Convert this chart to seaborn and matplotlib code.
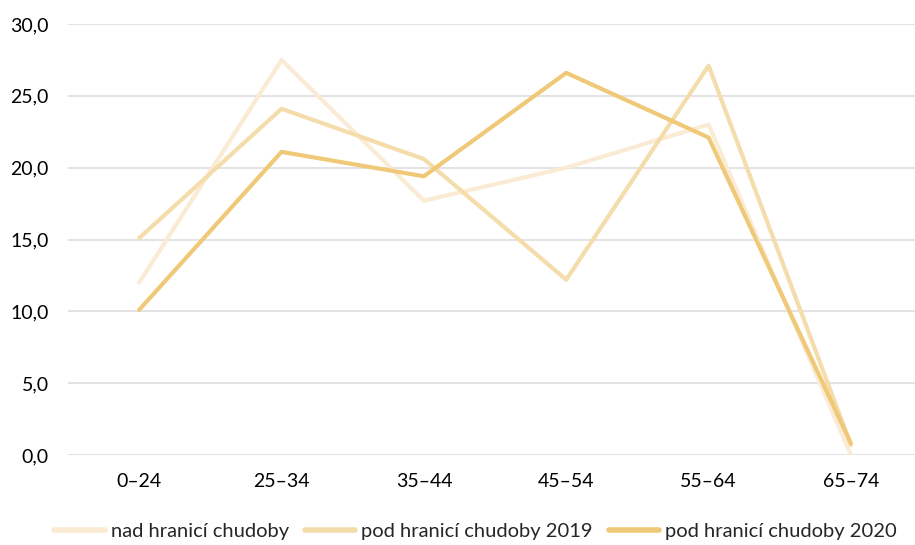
import pandas as pd
import seaborn as sns
import matplotlib.pyplot as plt

# Data
categories = ['0–24', '25–34', '35–44', '45–54', '55–64', '65–74']
nad_hranici = [12.0, 27.5, 17.7, 20.0, 23.0, 0.0]
pod_hranici_2019 = [15.1, 24.1, 20.6, 12.2, 27.1, 0.7]
pod_hranici_2020 = [10.1, 21.1, 19.4, 26.6, 22.1, 0.8]
series_names = ['nad hranicí chudoby', 'pod hranicí chudoby 2019', 'pod hranicí chudoby 2020']
y_ticks = [0, 5, 10, 15, 20, 25, 30]
y_tick_labels = ['0,0', '5,0', '10,0', '15,0', '20,0', '25,0', '30,0']

colors = ['#FAEBD5', '#F5DCAB', '#F0C978']

# Build long table for seaborn
rows = []
for name, vals in zip(series_names, [nad_hranici, pod_hranici_2019, pod_hranici_2020]):
    for i, (cat, v) in enumerate(zip(categories, vals)):
        rows.append({'pos': i, 'kategorie': cat, 'hodnota': v, 'serie': name})
df = pd.DataFrame(rows)

sns.set_style('white')
plt.rcParams['font.family'] = ['Lato', 'DejaVu Sans']

fig = plt.figure(figsize=(9.15, 5.45), dpi=100)
ax = fig.add_axes([68 / 915, 90 / 545, 1 - 68 / 915, 431 / 545])

sns.lineplot(data=df, x='pos', y='hodnota', hue='serie', hue_order=series_names,
             palette=colors, linewidth=3.0, ax=ax, legend=False,
             solid_capstyle='round', solid_joinstyle='round')

ax.set_xlim(-0.5, 5.45)
ax.set_ylim(0, 30)
ax.set_yticks(y_ticks)
ax.set_yticklabels(y_tick_labels)
ax.set_xticks(range(len(categories)))
ax.set_xticklabels(categories)
ax.tick_params(axis='both', length=0, labelsize=14, colors='#000000')
ax.tick_params(axis='x', pad=13)
ax.tick_params(axis='y', pad=14)
ax.set_xlabel('')
ax.set_ylabel('')
ax.yaxis.grid(True, color='#DEDEDE', linewidth=1.2)
ax.set_axisbelow(True)
for s in ax.spines.values():
    s.set_visible(False)

handles = [plt.Line2D([0], [0], color=c, linewidth=4, solid_capstyle='round') for c in colors]
fig.legend(handles, series_names, loc='lower center', ncol=3, frameon=False,
           bbox_to_anchor=(0.52, -0.025), fontsize=14.5, handlelength=2.5,
           handletextpad=0.3, columnspacing=0.8)

fig.savefig('out.png', dpi=100)
